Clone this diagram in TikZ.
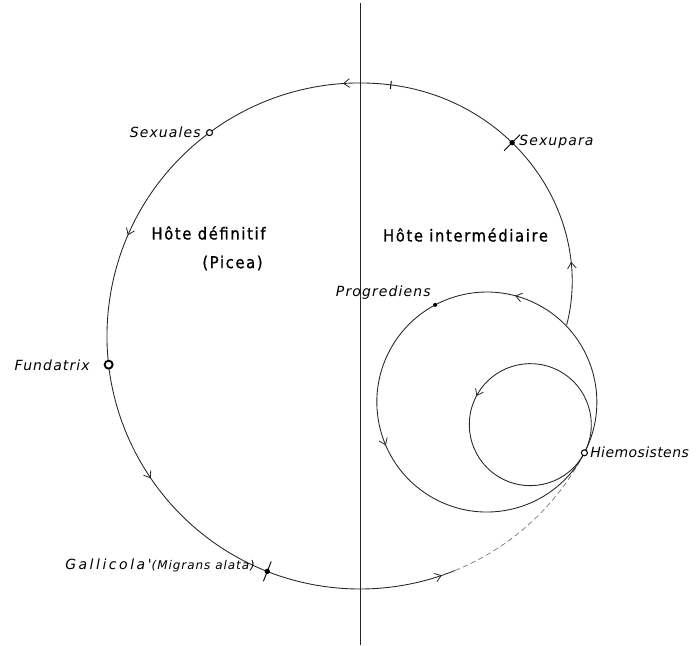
\documentclass[tikz,border=0pt]{standalone}
\usepackage{fontspec}
\setmainfont{DejaVu Sans}
\newfontfamily\hostfont[LetterSpace=10,FakeBold=1]{DejaVu Sans Condensed}
\newfontfamily\labfont[LetterSpace=8]{DejaVu Sans}
\newfontfamily\labfontn[LetterSpace=3]{DejaVu Sans}
\newfontfamily\galfont[LetterSpace=18]{DejaVu Sans}
\usetikzlibrary{arrows.meta,decorations.markings,calc}
\tikzset{
  barb/.tip={Straight Barb[length=4.5pt,width=6.5pt,line width=0.6pt]},
  curve/.style={line width=0.65pt, draw=black!85},
  faint/.style={line width=0.5pt, draw=black!55, dash pattern=on 4pt off 2.5pt},
  axisline/.style={line width=0.7pt, draw=black!85},
  arr/.style={postaction={decorate, decoration={markings, mark=at position #1 with {\arrow{barb}}}}},
  opendot/.style={circle, draw=black, line width=0.8pt, fill=white, inner sep=0pt, minimum size=4.5pt},
  fatdot/.style={circle, draw=black, line width=1.4pt, fill=white, inner sep=0pt, minimum size=6pt},
  fulldot/.style={circle, fill=black, inner sep=0pt, minimum size=4pt},
  smalldot/.style={circle, fill=black, inner sep=0pt, minimum size=3pt},
  tickline/.style={line width=0.7pt, draw=black},
  lab/.style={font=\labfont\itshape\fontsize{10.5}{12}\selectfont, inner sep=0pt},
  host/.style={font=\hostfont\fontsize{12.3}{14}\selectfont, inner sep=0pt, align=center},
}
\begin{document}
\begin{tikzpicture}[x=0.75pt,y=0.75pt]
\useasboundingbox (0,0) rectangle (698,645);
% centres
\coordinate (O) at (360,309);
\coordinate (M) at (486.8,243);
\path (O) ++(-27.5:189.75pt) coordinate (H);
\path (O) ++(83:189.75pt) coordinate (J);
\path (O) ++(292:189.75pt) coordinate (D);
\coordinate (axtop) at (360,642);
\coordinate (axbot) at (360,0);
% axis
\draw[axisline] (axtop) -- (axbot);
% big loop
\draw[curve, arr=0.052, arr=0.352, arr=0.628, arr=0.985] (J) arc[start angle=83, end angle=292, radius=189.75pt];
\draw[faint] (D) arc[start angle=292, end angle=332.5, radius=189.75pt];
% middle loop
\draw[curve, arr=0.285, arr=0.641] (H) arc[start angle=-27.5, end angle=332.5, radius=82.5pt];
% small loop
\draw[curve, arr=0.499] (H) arc[start angle=-27.5, end angle=332.5, radius=45.75pt];
% spiral from the middle loop back to the big loop
\draw[curve, arr=0.19] plot[domain=3:83, samples=60, smooth, variable=\a]
  ({360+(253-0.0072*(83-\a)^2)*cos(\a)}, {309+(253-0.0072*(83-\a)^2)*sin(\a)});
% markers
\path (O) ++(126.5:189.75pt) coordinate (pSx);
\path (O) ++(186.5:189.75pt) coordinate (pFu);
\path (O) ++(248.5:189.75pt) coordinate (pGa);
\path (O) ++(51.8:184.5pt) coordinate (Sxp);
\path (M) ++(118:82.5pt) coordinate (pPr);
\draw[tickline] ($(J)!3pt!(O)$) -- ($(J)!-3pt!(O)$);
\draw[tickline] ($(pGa)!-8pt!(O)$) -- ($(pGa)!8pt!(O)$);
\draw[tickline] ($(Sxp)+(-8,-8)$) -- ($(Sxp)+(8,8)$);
\node[opendot] (sexuales) at (pSx) {};
\node[fatdot] (fundatrix) at (pFu) {};
\node[fulldot] (gallicola) at (pGa) {};
\node[fulldot] (sexupara) at (Sxp) {};
\node[smalldot] (progrediens) at (pPr) {};
\node[opendot] (hiemo) at (H) {};
% labels
\node[lab, anchor=east] (tSx) at (201,513) {Sexuales};
\node[lab, anchor=east] (tFu) at (90,280) {Fundatrix};
\node[lab, anchor=west] (tGa) at (65,80) {{\galfont\itshape Gallicola'}{\fontsize{9}{10}\selectfont(Migrans alata)}};
\node[lab, anchor=west] (tSp) at (519,503) {Sexupara};
\node[lab, anchor=east] (tPr) at (431,352) {Progrediens};
\node[lab, anchor=west, font=\labfontn\itshape\fontsize{10.5}{12}\selectfont] (tHi) at (590,193) {Hiemosistens};
\node[host] (hd) at (208.5,412) {Hôte définitif};
\node[host] (pc) at (232.5,382) {(Picea)};
\node[host] (hi) at (465.5,410) {Hôte intermédiaire};
\end{tikzpicture}
\end{document}
